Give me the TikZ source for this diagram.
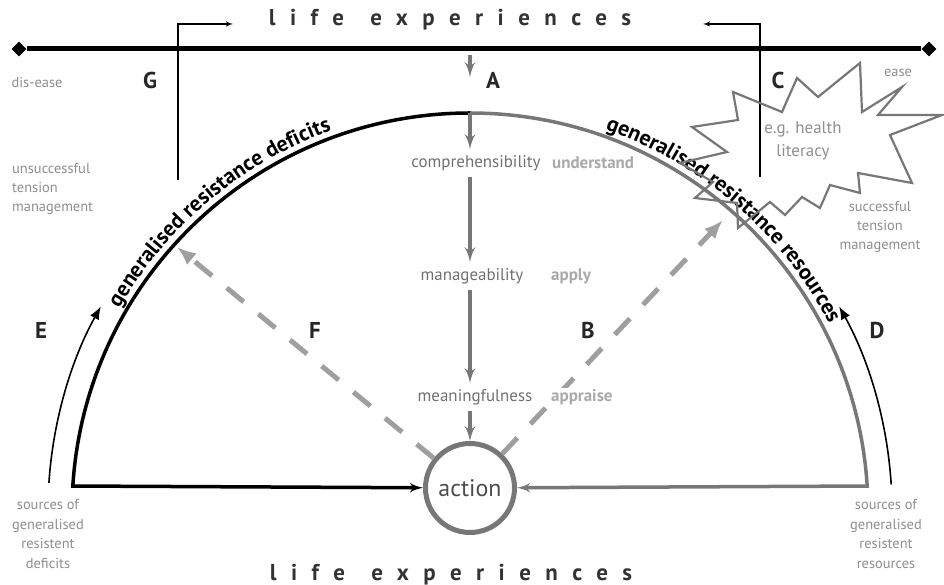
\documentclass[tikz,border=0pt]{standalone}
\usepackage{fontspec}
\setmainfont{PT Sans}
\newfontfamily\spacedfont[LetterSpace=63]{PT Sans}
\usetikzlibrary{arrows,arrows.meta,shapes.geometric,decorations.text}
\definecolor{arcgray}{HTML}{777777}
\definecolor{notegray}{HTML}{8E8E8E}
\definecolor{stagegray}{HTML}{707070}
\definecolor{skillgray}{HTML}{A9A9A9}
\definecolor{dashgray}{HTML}{9F9F9F}
\newcommand\arcfont{\fontsize{22}{22}\selectfont\bfseries}
\tikzset{
    letter/.style={font=\fontsize{23}{26}\selectfont\bfseries, text=black!85},
    note/.style={font=\fontsize{14.5}{19.5}\selectfont, text=notegray, align=center, inner sep=0pt},
    stage/.style={font=\fontsize{17}{20}\selectfont, text=stagegray, inner xsep=0pt, inner ysep=6bp},
    skill/.style={font=\fontsize{17}{20}\selectfont\bfseries, text=skillgray, anchor=west, inner sep=1bp, fill=white},
    title/.style={font=\spacedfont\fontsize{23}{26}\selectfont\bfseries, text=black!80},
    ending/.style={diamond, fill=black, inner sep=0pt, minimum width=15bp, minimum height=15bp},
    flow/.style={->,> = latex', line width=4bp, draw=arcgray},
    dashflow/.style={-{Latex[length=19bp,width=15bp]}, line width=5bp, draw=dashgray, dash pattern=on 22bp off 19bp},
    link/.style={->,> = latex', line width=1.4bp},
    sweep/.style={-{Latex[length=13bp,width=10bp]}, line width=1.6bp},
    rim/.style={line width=3.5bp}
}

\begin{document}
\begin{tikzpicture}[x=1bp, y=1bp]
\useasboundingbox (0,0) rectangle (944,585);

% life experiences, top and bottom
\node[title] (lifetop) at (450,565) {life\hspace{6bp} experiences};
\node[title] (lifebot) at (451,10) {life\hspace{6bp} experiences};

\node[ending] (ldia) at (19,536) {};
\node[ending] (rdia) at (929,536) {};
\draw[line width=5bp] (ldia) -- (rdia);

% half circle
\coordinate (ctr) at (470,74);
\coordinate (apex) at (470,472);
\node[circle, draw=arcgray, line width=5bp, minimum size=89bp, inner sep=0pt, font=\fontsize{24}{26}\selectfont, text=black!70] (act) at (470,97) {action};

\draw[rim, ->, > = latex'] (apex) arc[start angle=90, end angle=176.4, radius=398] -- (act);
\draw[rim, arcgray, ->, > = latex'] (apex) arc[start angle=90, end angle=3.6, radius=398] -- (act);

\path[decorate, decoration={text along path, text align=center, text={|\arcfont|generalised resistance deficits}}] (ctr) ++(165:405) arc[start angle=165, end angle=95, radius=405];
\path[decorate, decoration={text along path, text align=center, text={|\arcfont|generalised resistance resources}}] (ctr) ++(84:405) arc[start angle=84, end angle=14, radius=405];

% dashed feedback
\coordinate (ftip) at (177,338);
\coordinate (btip) at (723,365);
\draw[dashflow] (act) -- (ftip);
\draw[dashflow] (act) -- (btip);

% sense of coherence
\coordinate (a0) at (470,530);
\coordinate (a1) at (470,508);
\draw[flow] (a0) -- (a1);
\node[stage] (comp) at (476,422) {comprehensibility};
\node[stage] (mana) at (472,309) {manageability};
\node[stage] (mean) at (475,188) {meaningfulness};
\draw[flow] (apex) -- (apex |- comp.north);
\draw[flow] (apex |- comp.south) -- (apex |- mana.north);
\draw[flow] (apex |- mana.south) -- (apex |- mean.north);
\draw[flow] (apex |- mean.south) -- (act);

\node[skill] (und) at (551,422) {understand};
\node[skill] (app) at (550,309) {apply};
\node[skill] (apr) at (550,188) {appraise};

% E and D
\coordinate (efoot) at (48.9,102);
\coordinate (dfoot) at (891.2,100.5);
\draw[sweep] (efoot) arc[start angle=176.2, end angle=151, radius=422];
\draw[sweep] (dfoot) arc[start angle=3.6, end angle=29, radius=422];

% G and C
\coordinate (gfoot) at (178,405);
\coordinate (gend) at (233,561);
\draw[link] (gfoot) |- (gend);
\coordinate (cfoot) at (760,408);
\coordinate (cend) at (703,561);
\draw[link] (cfoot) |- (cend);

\node[letter] (la) at (493,505) {A};
\node[letter] (lb) at (588,255) {B};
\node[letter] (lc) at (778,505) {C};
\node[letter] (ld) at (877,255) {D};
\node[letter] (le) at (41,255) {E};
\node[letter] (lf) at (315,255) {F};
\node[letter] (lg) at (150,505) {G};

\node[note] (disease) at (37,503) {dis-ease};
\node[note] (ease) at (898,512) {ease};
\node[note, align=left, anchor=west] (unsucc) at (12,396) {unsuccessful\\tension\\management};
\node[note] (succ) at (880,358) {successful\\tension\\management};
\node[note] (srcdef) at (48,51) {sources of\\generalised\\resistent\\deficits};
\node[note] (srcres) at (886,51) {sources of\\generalised\\resistent\\resources};

% health literacy burst
\draw[arcgray, line width=2.2bp] (860,522) -- (862,473) -- (902,498) -- (878,470) -- (942,470) -- (890,450) -- (912,402) -- (858,412) -- (860,392) -- (830,400) -- (820,377) -- (802,388) -- (785,370) -- (770,383) -- (738,357) -- (737,382) -- (695,387) -- (713,403) -- (680,422) -- (727,433) -- (692,458) -- (738,465) -- (733,493) -- (782,473) -- (797,507) -- (818,488) -- cycle;
\node[note, font=\fontsize{17}{23}\selectfont] (hl) at (803,444) {e.g. health\\literacy};

\end{tikzpicture}
\end{document}
